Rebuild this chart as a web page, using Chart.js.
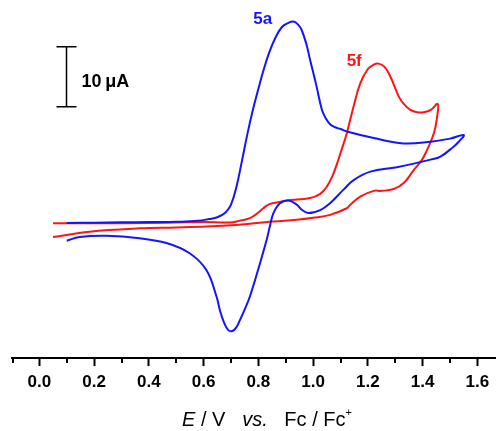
<!DOCTYPE html>
<html>
<head>
<meta charset="utf-8">
<script src="https://cdn.jsdelivr.net/npm/chart.js@4.4.0/dist/chart.umd.min.js"></script>
<style>
  html, body { margin: 0; padding: 0; background: #fff; }
  #wrap { width: 496px; height: 431px; }
</style>
</head>
<body>
<div id="wrap"><canvas id="cvChart"></canvas></div>
<script>
// potential (V vs Fc/Fc+) and current (uA), forward scan then reverse scan
var e5a = [0.10, 0.20, 0.30, 0.40, 0.50, 0.58, 0.62, 0.65, 0.68, 0.70, 0.72, 0.74, 0.76, 0.78, 0.80, 0.82, 0.84, 0.86, 0.886, 0.91, 0.928, 0.945, 0.958, 0.975, 0.989, 1.011, 1.032, 1.045, 1.062, 1.08, 1.10, 1.13, 1.221, 1.33, 1.43, 1.50, 1.55,
           1.53, 1.514, 1.465, 1.429, 1.306, 1.209, 1.148, 1.111, 1.062, 1.026, 0.983, 0.96, 0.94, 0.91, 0.879, 0.855, 0.842, 0.83, 0.806, 0.769, 0.745, 0.733, 0.72, 0.705, 0.69, 0.675, 0.66, 0.647, 0.61, 0.549, 0.464, 0.366, 0.244, 0.147, 0.10];
var i5a = [0.15, 0.2, 0.25, 0.3, 0.35, 0.5, 0.8, 1.1, 1.9, 3.2, 6.2, 10.5, 15.0, 19.0, 22.5, 25.8, 28.6, 30.8, 32.8, 33.5, 33.7, 33.2, 32.3, 30.0, 27.3, 23.2, 19.0, 17.7, 16.6, 16.1, 15.8, 15.3, 14.3, 13.4, 13.7, 14.2, 14.8,
           13.6, 12.9, 11.2, 10.7, 9.45, 8.7, 7.3, 5.7, 3.45, 2.3, 1.8, 2.3, 3.2, 3.9, 3.45, 1.8, -0.4, -2.7, -6.55, -12.1, -14.8, -16.0, -17.2, -17.85, -17.7, -16.5, -14.5, -12.1, -7.7, -4.9, -3.2, -2.4, -2.0, -2.2, -2.8];

var e5f = [0.05, 0.20, 0.40, 0.60, 0.696, 0.73, 0.769, 0.80, 0.818, 0.84, 0.867, 0.904, 0.989, 1.026, 1.05, 1.07, 1.087, 1.105, 1.123, 1.148, 1.172, 1.20, 1.22, 1.239, 1.26, 1.282, 1.313, 1.331, 1.355, 1.38, 1.404, 1.43, 1.455,
           1.453, 1.441, 1.416, 1.398, 1.368, 1.331, 1.294, 1.25, 1.221, 1.172, 1.136, 1.123, 1.062, 1.00, 0.94, 0.855, 0.70, 0.61, 0.50, 0.366, 0.183, 0.05];
var i5f = [0.1, 0.1, 0.15, 0.3, 0.22, 0.5, 0.95, 1.9, 2.6, 3.3, 3.55, 3.9, 4.3, 5.0, 6.2, 7.9, 10.0, 12.5, 15.1, 19.6, 23.4, 25.8, 26.5, 26.7, 26.2, 24.55, 21.2, 20.0, 19.0, 18.6, 18.6, 19.0, 20.0,
           17.9, 15.1, 12.3, 10.7, 9.0, 6.8, 5.8, 5.5, 5.5, 4.55, 3.2, 2.6, 1.5, 1.0, 0.67, 0.4, -0.25, -0.45, -0.6, -0.75, -1.3, -2.2];

var seriesNames = ['5a', '5f'];
var majorTicks = [0.0, 0.2, 0.4, 0.6, 0.8, 1.0, 1.2, 1.4, 1.6];
var minorTicks = [-0.1, 0.1, 0.3, 0.5, 0.7, 0.9, 1.1, 1.3, 1.5];
var scaleBarValue = 10; // uA

function toPoints(xs, ys) {
  return xs.map(function (x, k) { return { x: x, y: ys[k] }; });
}

var fontFamily = '"Liberation Sans", Arial, sans-serif';

var extrasPlugin = {
  id: 'extras',
  afterDraw: function (chart) {
    var ctx = chart.ctx;
    var xs = chart.scales.x;
    var ys = chart.scales.y;
    var axisY = chart.chartArea.bottom;

    // minor ticks
    ctx.save();
    ctx.strokeStyle = '#000';
    ctx.lineWidth = 2;
    minorTicks.forEach(function (v) {
      var px = Math.round(xs.getPixelForValue(v));
      if (v === xs.min) px += 1;
      ctx.beginPath();
      ctx.moveTo(px, axisY);
      ctx.lineTo(px, axisY + 5);
      ctx.stroke();
    });
    ctx.restore();

    // series labels
    ctx.save();
    ctx.font = 'bold 17px ' + fontFamily;
    ctx.textAlign = 'center';
    ctx.textBaseline = 'middle';
    ctx.fillStyle = 'rgb(20,20,255)';
    ctx.fillText(seriesNames[0], xs.getPixelForValue(0.816), ys.getPixelForValue(34.1));
    ctx.fillStyle = 'rgb(255,20,20)';
    ctx.fillText(seriesNames[1], xs.getPixelForValue(1.15), ys.getPixelForValue(27.1));
    ctx.restore();

    // scale bar
    var bx = Math.round(xs.getPixelForValue(0.099)) + 0.5;
    var by0 = ys.getPixelForValue(19.5);
    var by1 = ys.getPixelForValue(19.5 + scaleBarValue);
    ctx.save();
    ctx.strokeStyle = '#000';
    ctx.lineWidth = 1.5;
    ctx.beginPath();
    ctx.moveTo(bx, by0); ctx.lineTo(bx, by1);
    ctx.moveTo(bx - 10, by0); ctx.lineTo(bx + 10, by0);
    ctx.moveTo(bx - 10, by1); ctx.lineTo(bx + 10, by1);
    ctx.stroke();
    ctx.font = 'bold 18px ' + fontFamily;
    ctx.fillStyle = '#000';
    ctx.textAlign = 'left';
    ctx.textBaseline = 'middle';
    ctx.fillText(scaleBarValue + '\u2009\u03bcA', bx + 15, (by0 + by1) / 2 + 5);
    ctx.restore();

    // axis title: E / V  vs.  Fc / Fc+
    var parts = [
      { t: 'E', f: 'italic 20px ' },
      { t: ' / V   ', f: '20px ' },
      { t: 'vs.', f: 'italic 20px ' },
      { t: '   Fc / Fc', f: '20px ' }
    ];
    ctx.save();
    ctx.fillStyle = '#000';
    ctx.textBaseline = 'alphabetic';
    var total = 0;
    parts.forEach(function (p) { ctx.font = p.f + fontFamily; p.w = ctx.measureText(p.t).width; total += p.w; });
    ctx.font = '11px ' + fontFamily;
    var plusW = ctx.measureText('+').width;
    total += plusW;
    var tx = 267 - total / 2;
    var ty = 426;
    parts.forEach(function (p) {
      ctx.font = p.f + fontFamily;
      ctx.textAlign = 'left';
      ctx.fillText(p.t, tx, ty);
      tx += p.w;
    });
    ctx.font = '11px ' + fontFamily;
    ctx.fillText('+', tx, ty - 10);
    ctx.restore();
  }
};

var cvCtx = document.getElementById('cvChart').getContext('2d');
var cvChart = new Chart(cvCtx, {
  type: 'scatter',
  data: {
    datasets: [
      {
        label: seriesNames[0],
        data: toPoints(e5a, i5a),
        showLine: true,
        borderColor: 'rgb(20,20,255)',
        borderWidth: 2,
        pointRadius: 0,
        tension: 0.4,
        fill: false
      },
      {
        label: seriesNames[1],
        data: toPoints(e5f, i5f),
        showLine: true,
        borderColor: 'rgb(255,20,20)',
        borderWidth: 2,
        pointRadius: 0,
        tension: 0.4,
        fill: false
      }
    ]
  },
  options: {
    responsive: true,
    maintainAspectRatio: false,
    animation: false,
    layout: { padding: { left: 12, right: 0, top: 0, bottom: 0 } },
    plugins: {
      legend: { display: false },
      tooltip: { enabled: false }
    },
    scales: {
      x: {
        type: 'linear',
        position: 'bottom',
        min: -0.1,
        max: 1.668,
        afterBuildTicks: function (scale) {
          scale.ticks = majorTicks.map(function (v) { return { value: v }; });
        },
        afterFit: function (scale) { scale.height = 73; },
        grid: { display: true, drawOnChartArea: false, drawTicks: true, tickLength: 8, tickWidth: 2, tickColor: '#000' },
        border: { display: true, color: '#000', width: 2 },
        ticks: {
          padding: 6,
          color: '#000',
          maxRotation: 0,
          font: { family: fontFamily, size: 17, weight: 'bold' },
          callback: function (v) { return v.toFixed(1); }
        }
      },
      y: {
        type: 'linear',
        display: false,
        min: -22.35,
        max: 37.3
      }
    }
  },
  plugins: [extrasPlugin]
});
</script>
</body>
</html>
